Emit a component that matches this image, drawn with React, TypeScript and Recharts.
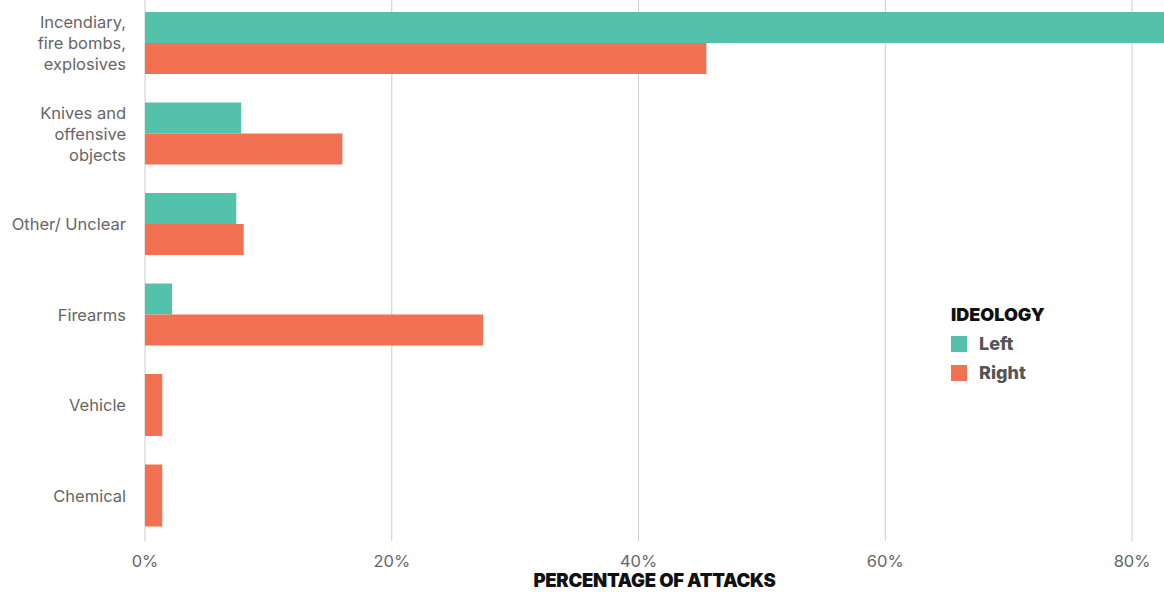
import { BarChart, Bar, XAxis, YAxis, CartesianGrid } from 'recharts';

const categories = [
    'Incendiary, fire bombs, explosives',
    'Knives and offensive objects',
    'Other/ Unclear',
    'Firearms',
    'Vehicle',
    'Chemical',
];

// wrapped label lines for the long categories
const labelLines: Record<string, string[]> = {
    'Incendiary, fire bombs, explosives': ['Incendiary,', 'fire bombs,', 'explosives'],
    'Knives and offensive objects': ['Knives and', 'offensive', 'objects'],
};

const leftValues = [83, 7.8, 7.4, 2.2, null, null];
const rightValues = [45.5, 16.0, 8.0, 27.4, 1.4, 1.4];
const xTicks = [0, 20, 40, 60, 80];

const LEFT_COLOR = '#54C1AA';
const RIGHT_COLOR = '#F37153';
const FONT = 'Inter, "Open Sans", sans-serif';

const data = categories.map((name, i) => ({
    name,
    Left: leftValues[i],
    Right: rightValues[i],
}));

function YTick({ x, y, payload }: any) {
    const lines = labelLines[payload.value] || [payload.value];
    const lh = 21;
    const start = y - ((lines.length - 1) * lh) / 2;
    return (
        <text x={x} y={start} textAnchor="end" fill="#666" fontSize={16.5} fontFamily={FONT} dominantBaseline="central">
            {lines.map((l: string, i: number) => (
                <tspan key={i} x={x} y={start + i * lh} dominantBaseline="central">{l}</tspan>
            ))}
        </text>
    );
}

function XTick({ x, y, payload }: any) {
    return (
        <text x={x} y={y + 12} textAnchor="middle" fill="#666" fontSize={16.5} fontFamily={FONT} dominantBaseline="central">
            {payload.value}%
        </text>
    );
}

// single-series categories take the whole group height
function RightShape(props: any) {
    const { x, y, width, height, payload } = props;
    if (payload.Left == null) {
        return <rect x={x} y={y - height} width={width} height={height * 2} fill={RIGHT_COLOR} />;
    }
    return <rect x={x} y={y} width={width} height={height} fill={RIGHT_COLOR} />;
}

function LegendBox() {
    const items = [
        { label: 'Left', color: LEFT_COLOR },
        { label: 'Right', color: RIGHT_COLOR },
    ];
    return (
        <div style={{ position: 'absolute', left: 951, top: 304, fontFamily: FONT }}>
            <div style={{ fontWeight: 900, fontSize: 18, color: '#111', lineHeight: '22px', marginBottom: 3 }}>IDEOLOGY</div>
            {items.map((it) => (
                <div key={it.label} style={{ display: 'flex', alignItems: 'center', height: 29 }}>
                    <span style={{ width: 16, height: 16, background: it.color, display: 'inline-block', marginRight: 12 }} />
                    <span style={{ fontWeight: 800, fontSize: 18, color: '#555' }}>{it.label}</span>
                </div>
            ))}
        </div>
    );
}

export default function App() {
    return (
        <div style={{ position: 'absolute', left: 0, top: 0, width: 1164, height: 592, background: '#fff', overflow: 'hidden' }}>
            <BarChart
                width={1164}
                height={592}
                data={data}
                layout="vertical"
                margin={{ top: -2, right: -2, bottom: 21, left: 0 }}
                barGap={0}
                barSize={31}
            >
                <CartesianGrid horizontal={false} stroke="#cccccc" syncWithTicks />
                <XAxis
                    type="number"
                    domain={[0, 82.75]}
                    ticks={xTicks}
                    allowDataOverflow
                    axisLine={false}
                    tickLine={false}
                    height={30}
                    tick={<XTick />}
                />
                <YAxis
                    type="category"
                    dataKey="name"
                    width={145}
                    axisLine={false}
                    tickLine={false}
                    tickSize={0}
                    tickMargin={19}
                    interval={0}
                    tick={<YTick />}
                />
                <Bar dataKey="Left" fill={LEFT_COLOR} isAnimationActive={false} />
                <Bar dataKey="Right" fill={RIGHT_COLOR} isAnimationActive={false} shape={<RightShape />} />
            </BarChart>
            <LegendBox />
            <div
                style={{
                    position: 'absolute',
                    left: 145,
                    width: 1019,
                    top: 569,
                    textAlign: 'center',
                    fontFamily: FONT,
                    fontWeight: 900,
                    fontSize: 18.5,
                    color: '#111',
                    lineHeight: '22px',
                    letterSpacing: -0.3,
                }}
            >
                PERCENTAGE OF ATTACKS
            </div>
        </div>
    );
}
